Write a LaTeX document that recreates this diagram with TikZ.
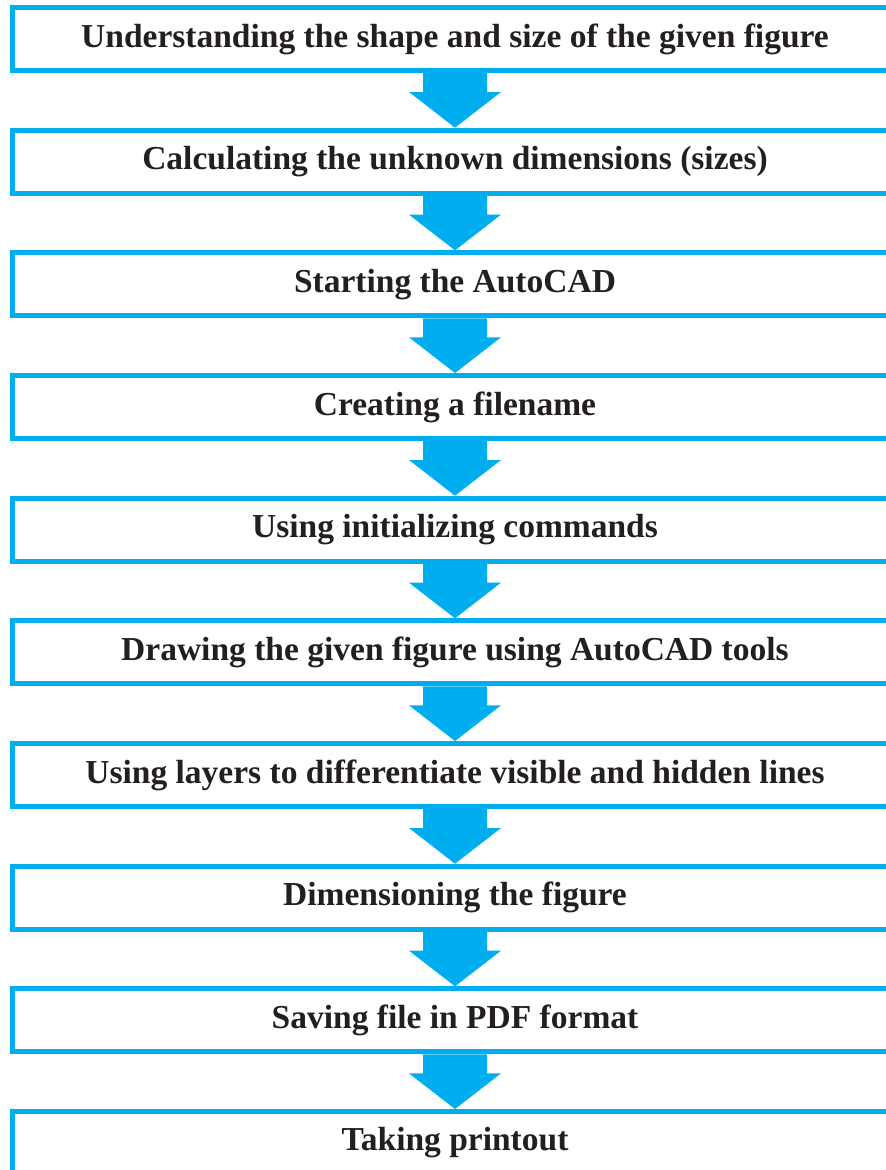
\documentclass[tikz,border=0pt]{standalone}
\usepackage{fontspec}
\setmainfont{Liberation Serif}
\usetikzlibrary{calc}

\definecolor{procblue}{HTML}{00AEEF}
\definecolor{ink}{HTML}{231F20}

\begin{document}
\begin{tikzpicture}[x=1pt,y=-1pt,
  stage/.style={draw=procblue,line width=5pt,minimum width=885pt,minimum height=63pt,
    inner sep=0pt,text=ink,font=\bfseries\fontsize{33.5}{38}\selectfont},
  flow/.style={fill=procblue}]

\useasboundingbox (0,0) rectangle (886,1170);

\foreach \x/\txt in {1/Understanding the shape and size of the given figure,
  2/Calculating the unknown dimensions (sizes),
  3/Starting the AutoCAD,
  4/Creating a filename,
  5/Using initializing commands,
  6/Drawing the given figure using AutoCAD tools,
  7/Using layers to differentiate visible and hidden lines,
  8/Dimensioning the figure,
  9/Saving file in PDF format,
  10/Taking printout}
{
  \node[stage] (s\x) at (455, 39+122.67*\x-122.67) {\txt};
}

% block arrows between the steps
\foreach \x in {1,...,9}
{
  \pgfmathtruncatemacro{\y}{\x+1}
  \fill[flow] ($(s\x.south)+(-32,0)$) -- ++(0,19) -- ++(-14,0) -- (s\y.north)
    -- ($(s\x.south)+(46,19)$) -- ++(-14,0) -- ++(0,-19) -- cycle;
}

\end{tikzpicture}
\end{document}
